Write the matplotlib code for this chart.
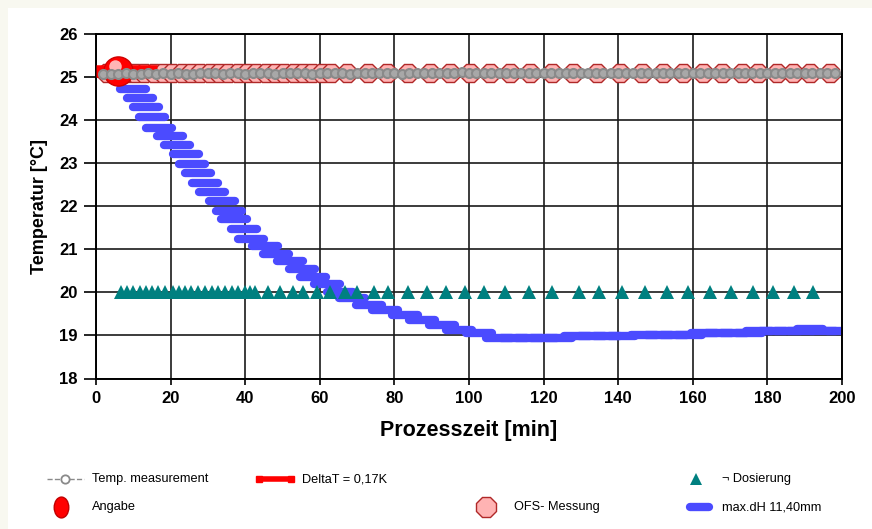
import numpy as np
import matplotlib
matplotlib.use('Agg')
import matplotlib.pyplot as plt
from matplotlib import font_manager
from matplotlib.markers import MarkerStyle
from matplotlib.patches import Rectangle
import matplotlib.transforms as mtransforms

# --- data ---
# Temp. measurement (grey, dashed with small circles), every 2 min
temp_t = np.arange(2, 199, 2)
temp_y = [25.08, 25.07, 25.08, 25.09, 25.08, 25.08, 25.09, 25.08, 25.09, 25.08,
          25.09, 25.08, 25.08, 25.09, 25.10, 25.09, 25.08, 25.09, 25.09, 25.08,
          25.09, 25.10, 25.09, 25.08, 25.09, 25.09, 25.10, 25.09, 25.08, 25.09,
          25.10, 25.11, 25.09, 25.08, 25.09, 25.10, 25.09, 25.09, 25.10, 25.09,
          25.08, 25.09, 25.10, 25.09, 25.09, 25.11, 25.10, 25.09, 25.12, 25.10,
          25.09, 25.10, 25.09, 25.10, 25.09, 25.09, 25.10, 25.11, 25.09, 25.10,
          25.09, 25.10, 25.11, 25.09, 25.10, 25.09, 25.10, 25.10, 25.09, 25.10,
          25.11, 25.10, 25.09, 25.10, 25.10, 25.09, 25.10, 25.11, 25.10, 25.09,
          25.10, 25.11, 25.10, 25.09, 25.10, 25.11, 25.10, 25.09, 25.10, 25.10,
          25.09, 25.10, 25.11, 25.10, 25.09, 25.10, 25.10, 25.09, 25.09]

# DeltaT = 0,17K (red bar at the start)
delta_t = [0, 16.4]
delta_y = [25.14, 25.14]

# Angabe (red ball)
angabe_t = [6.0]
angabe_y = [25.15]

# OFS- Messung (pink octagons)
ofs_t = [3, 5.5, 8, 10.5, 13, 15.5, 18, 20.5, 23, 25.5, 28, 30.5, 33, 35.5, 38,
         40.5, 43, 45.5, 48, 50.5, 53, 55.5, 58, 60.5, 63, 67.2, 73.0, 77.9,
         83.7, 89.5, 94.9, 100.3, 105.6, 111.0, 116.4, 122.2, 127.9, 134.3,
         140.5, 146.4, 152.0, 157.4, 162.7, 167.8, 173.2, 177.5, 182.6, 186.9,
         191.4, 196.8]
ofs_y = [25.09] * len(ofs_t)

# Dosierung (teal triangles)
dos_t = [6.6, 8.4, 10.0, 11.8, 13.4, 14.9, 16.7, 18.5, 20.7, 22.3, 23.9, 25.6,
         27.4, 29.2, 31.0, 32.8, 34.6, 36.4, 38.1, 39.9, 41.3, 42.6, 46.2, 49.3,
         52.9, 55.6, 59.2, 62.7, 66.8, 69.9, 74.4, 78.2, 83.6, 88.7, 93.8, 98.9,
         104.1, 109.7, 116.2, 122.2, 129.5, 134.9, 141.0, 147.2, 153.1, 158.7,
         164.6, 170.2, 176.1, 181.5, 187.1, 192.2]
dos_y = [20.0] * len(dos_t)

# max.dH 11,40mm (blue dashes)
dh_t = [9.9, 11.7, 13.5, 15.1, 16.9, 19.9, 21.7, 24.0, 25.8, 27.3, 29.3, 31.1,
        33.7, 35.6, 37.1, 39.6, 41.5, 45.3, 48.2, 51.9, 55.1, 58.3, 61.8, 65.4,
        68.6, 73.2, 77.5, 82.8, 87.4, 92.8, 97.3, 102.7,
        108, 112, 116, 120, 124, 129, 133, 137, 141, 147, 151, 155, 159,
        163, 167, 171, 175, 177.7, 181.5, 185.5, 189, 191.4, 195, 199.5]
dh_y = [24.73, 24.52, 24.30, 24.07, 23.83, 23.64, 23.42, 23.22, 22.99, 22.77,
        22.55, 22.34, 22.13, 21.90, 21.70, 21.48, 21.24, 21.09, 20.90, 20.74,
        20.54, 20.37, 20.19, 20.02, 19.87, 19.71, 19.59, 19.48, 19.36, 19.24,
        19.13, 19.05,
        18.93, 18.93, 18.93, 18.93, 18.93, 18.98, 18.98, 18.98, 18.98,
        19.01, 19.01, 19.01, 19.01, 19.06, 19.06, 19.06, 19.06,
        19.10, 19.10, 19.10, 19.10, 19.16, 19.10, 19.10]

# --- fonts ---
names = {f.name for f in font_manager.fontManager.ttflist}
narrow = 'Liberation Sans Narrow' in names
base = 'Liberation Sans'
plt.rcParams['font.family'] = [base, 'DejaVu Sans']

GREY = '#8a8a8a'
RED = '#ff0000'
PINK = '#ffb3b3'
PINK_EDGE = '#b02828'
TEAL = '#008080'
BLUE = '#4b4bff'

fig = plt.figure(figsize=(8.72, 5.29), dpi=100, facecolor='#f8f8f0')

# background / legend layer in pixel coordinates
bg = fig.add_axes([0, 0, 1, 1])
bg.set_xlim(0, 872)
bg.set_ylim(529, 0)
bg.axis('off')
bg.add_patch(Rectangle((8, 8), 864, 521, facecolor='white', edgecolor='none'))

ax = fig.add_axes([96 / 872, 1 - 378.5 / 529, (842 - 96) / 872, (378.5 - 34.3) / 529])
ax.set_xlim(0, 200)
ax.set_ylim(18, 26)
ax.set_xticks(range(0, 201, 20))
ax.set_yticks(range(18, 27))
ax.grid(True, color='#1a1a1a', linewidth=1.2)
ax.set_axisbelow(True)
for s in ax.spines.values():
    s.set_color('black')
    s.set_linewidth(1.4)
ax.tick_params(axis='y', direction='out', length=9, width=1.2, pad=4)
ax.tick_params(axis='x', direction='out', length=4, width=1.2, pad=5)
for lab in ax.get_xticklabels() + ax.get_yticklabels():
    lab.set_fontweight('bold')
    lab.set_fontsize(12)

dash = MarkerStyle('_', capstyle='round')
ax.plot(dh_t, dh_y, linestyle='none', marker=dash, markersize=19,
        markeredgewidth=6, color=BLUE, zorder=2)
ax.plot(dos_t, dos_y, linestyle='none', marker='^', markersize=9.5,
        color=TEAL, markeredgewidth=0, zorder=3)
ax.plot(ofs_t, ofs_y, linestyle='none', marker='8', markersize=14,
        markerfacecolor=PINK, markeredgecolor=PINK_EDGE, markeredgewidth=1, zorder=4)
ax.plot(delta_t, delta_y, color=RED, linewidth=9, solid_capstyle='butt', zorder=4.5)
ax.plot(angabe_t, angabe_y, linestyle='none', marker='o', markersize=21,
        color=RED, markeredgecolor='#d00000', zorder=5)
hl = mtransforms.offset_copy(ax.transData, fig=fig, x=-3, y=5, units='dots')
ax.plot(angabe_t, angabe_y, linestyle='none', marker='o', markersize=9,
        color='#ffd6d6', alpha=0.85, markeredgewidth=0, transform=hl, zorder=5)
ax.plot(temp_t, temp_y, linestyle='--', linewidth=1, color=GREY,
        marker='o', markersize=6.5, markerfacecolor='#a8a8a8',
        markeredgecolor=GREY, markeredgewidth=1.5, zorder=6)

if narrow:
    ax.set_ylabel('Temperatur [°C]', family=['Liberation Sans Narrow', 'DejaVu Sans'],
                  fontsize=15.5, fontweight='bold', labelpad=8)
else:
    ax.set_ylabel('Temperatur [°C]', fontsize=13, fontweight='bold', labelpad=8)
ax.set_xlabel('Prozesszeit [min]', fontsize=15.5, fontweight='bold', labelpad=10)

# --- legend drawn by hand ---
lfam = ['Liberation Sans Narrow', 'Liberation Sans', 'DejaVu Sans'] if narrow else [base, 'DejaVu Sans']
lsize = 10.5 if narrow else 9.2
r1, r2 = 479, 507
bg.plot([47, 84], [r1, r1], linestyle='--', color=GREY, linewidth=1)
bg.plot([65], [r1], marker='o', markersize=6, markerfacecolor='white',
        markeredgecolor=GREY, markeredgewidth=1.3)
bg.text(92, r1, 'Temp. measurement', family=lfam, fontsize=lsize, va='center')
bg.plot([259, 291], [r1, r1], color=RED, linewidth=4, solid_capstyle='butt')
bg.plot([259, 291], [r1, r1], linestyle='none', marker='s', markersize=5,
        color=RED)
bg.text(302, r1, 'DeltaT = 0,17K', family=lfam, fontsize=lsize, va='center')
bg.plot([696], [r1], marker='^', markersize=9, color=TEAL, markeredgewidth=0)
bg.text(722, r1, '¬ Dosierung', family=lfam, fontsize=lsize, va='center')

ball = MarkerStyle('o', transform=mtransforms.Affine2D().scale(0.7, 1.0))
bg.plot([61], [r2], marker=ball, markersize=15, color=RED, markeredgecolor='#c00000')
bg.text(92, r2, 'Angabe', family=lfam, fontsize=lsize, va='center')
bg.plot([486], [r2], marker='8', markersize=15, markerfacecolor=PINK,
        markeredgecolor=PINK_EDGE, markeredgewidth=1)
bg.text(514, r2, 'OFS- Messung', family=lfam, fontsize=lsize, va='center')
bg.plot([690, 709], [r2, r2], color=BLUE, linewidth=6, solid_capstyle='round')
bg.text(722, r2, 'max.dH 11,40mm', family=lfam, fontsize=lsize, va='center')

fig.savefig('out.png', dpi=100, facecolor=fig.get_facecolor())
